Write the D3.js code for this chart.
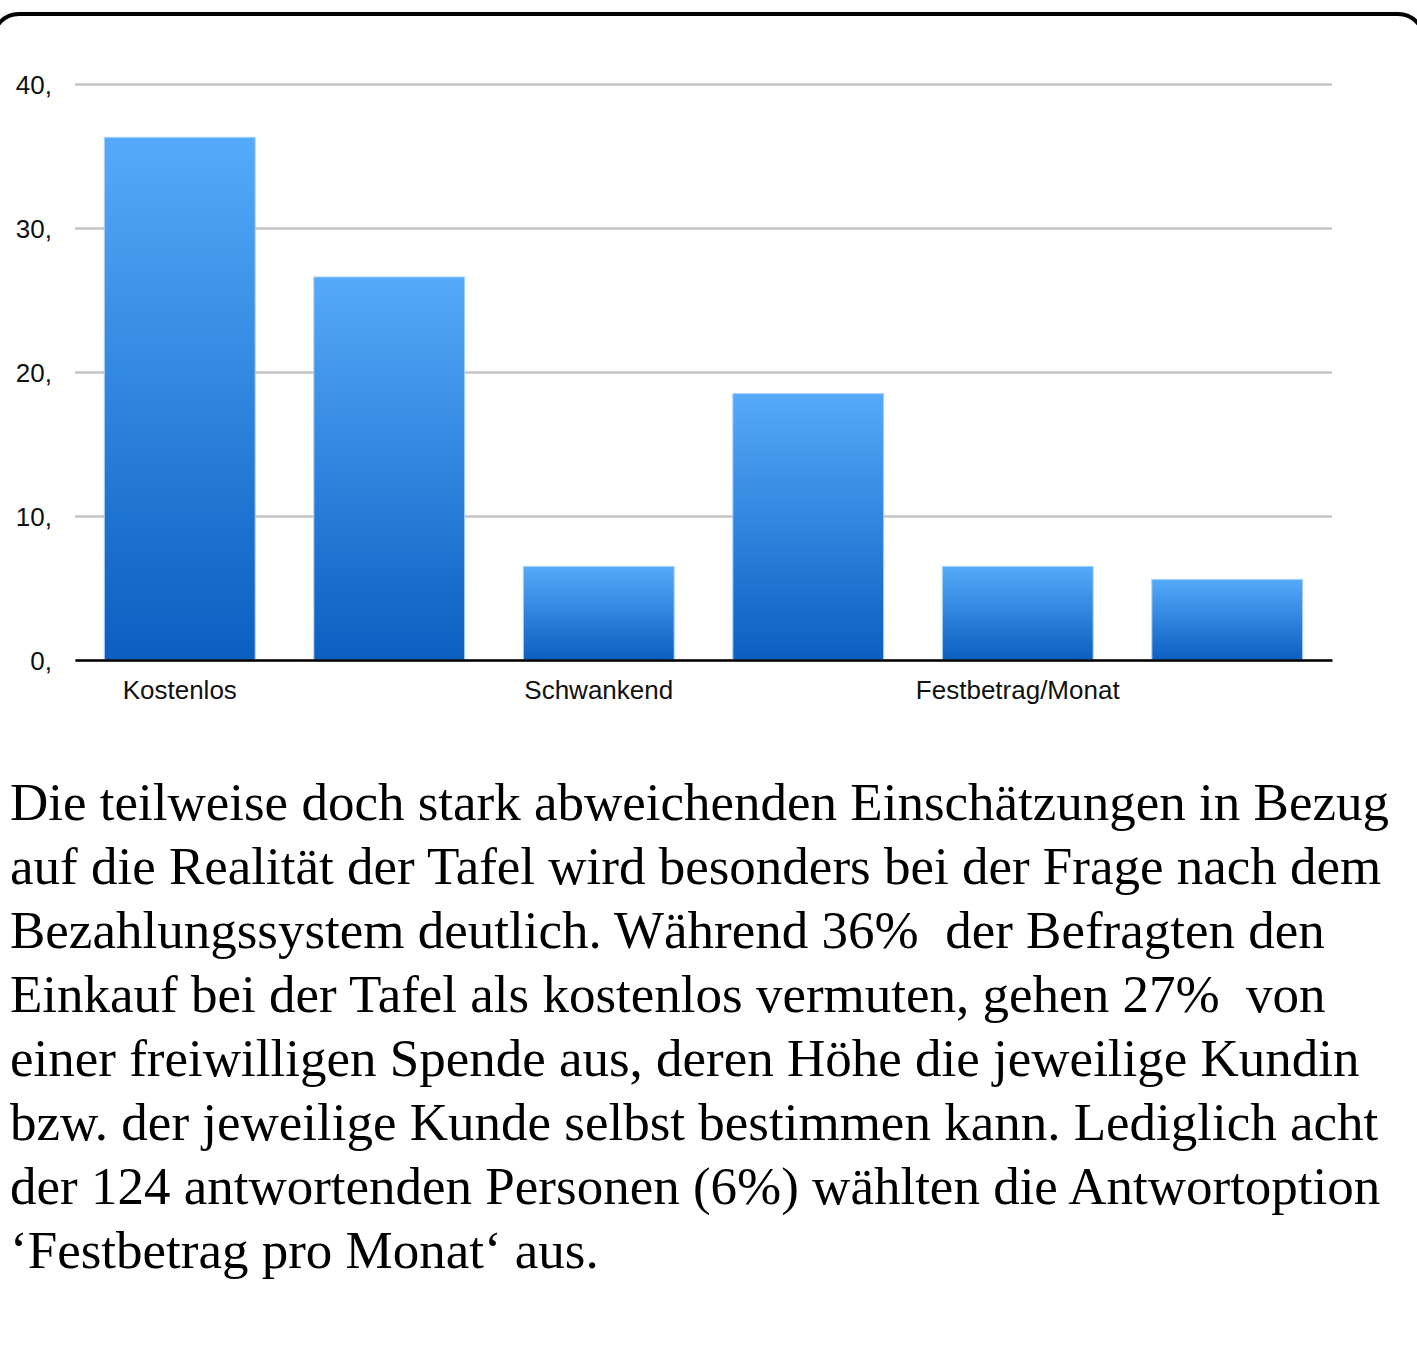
<!DOCTYPE html>
<html>
<head>
<meta charset="utf-8">
<script src="https://cdn.jsdelivr.net/npm/d3@7"></script>
<style>
  html, body { margin: 0; padding: 0; background: #fff; }
  svg { display: block; }
</style>
</head>
<body>
<div id="chart"></div>
<script>
// Antworten auf die Frage nach dem Bezahlungssystem (Prozent)
const categories = ["Kostenlos", "Spende", "Schwankend", "Freiwillig", "Festbetrag/Monat", "Sonstiges"];
const tickLabels = ["Kostenlos", "", "Schwankend", "", "Festbetrag/Monat", ""];
const values = [36.3, 26.6, 6.5, 18.5, 6.5, 5.6];
const yTicks = [0, 10, 20, 30, 40];

const paragraph = [
  "Die teilweise doch stark abweichenden Einschätzungen in Bezug",
  "auf die Realität der Tafel wird besonders bei der Frage nach dem",
  "Bezahlungssystem deutlich. Während 36%\u00a0 der Befragten den",
  "Einkauf bei der Tafel als kostenlos vermuten, gehen 27%\u00a0 von",
  "einer freiwilligen Spende aus, deren Höhe die jeweilige Kundin",
  "bzw. der jeweilige Kunde selbst bestimmen kann. Lediglich acht",
  "der 124 antwortenden Personen (6%) wählten die Antwortoption",
  "\u2018Festbetrag pro Monat\u2018 aus."
];

const width = 1417;
const height = 1349;
const margin = { top: 84, right: 85, left: 75 };
const plotBottom = 660;

const svg = d3.select("#chart")
  .append("svg")
  .attr("width", width)
  .attr("height", height);

const defs = svg.append("defs");

const grad = defs.append("linearGradient")
  .attr("id", "barGrad")
  .attr("x1", 0).attr("y1", 0)
  .attr("x2", 0).attr("y2", 1);
grad.append("stop").attr("offset", "0%").attr("stop-color", "#55aafa");
grad.append("stop").attr("offset", "100%").attr("stop-color", "#0a5fc1");

const shadow = defs.append("filter")
  .attr("id", "shadow")
  .attr("x", "-5%").attr("y", "-5%")
  .attr("width", "110%").attr("height", "110%");
shadow.append("feDropShadow")
  .attr("dx", 0).attr("dy", 4)
  .attr("stdDeviation", 3)
  .attr("flood-color", "#000")
  .attr("flood-opacity", 0.35);

// card frame at the top, side edges run just outside the view
svg.append("rect")
  .attr("x", -7)
  .attr("y", 14)
  .attr("width", width + 14)
  .attr("height", 1500)
  .attr("rx", 26)
  .attr("fill", "#fff")
  .attr("stroke", "#000")
  .attr("stroke-width", 4)
  .attr("filter", "url(#shadow)");

// scales
const x = d3.scaleBand()
  .domain(d3.range(categories.length))
  .range([margin.left, width - margin.right])
  .paddingInner(0.28)
  .paddingOuter(0.14);

const y = d3.scaleLinear()
  .domain([0, 40])
  .range([plotBottom, margin.top]);

// gridlines + y labels
const yAxis = svg.append("g")
  .attr("transform", `translate(${margin.left},0)`)
  .call(d3.axisLeft(y)
    .tickValues(yTicks)
    .tickSize(-(width - margin.right - margin.left))
    .tickPadding(23)
    .tickFormat(d => d + ","));

yAxis.select(".domain").remove();
yAxis.selectAll(".tick line")
  .attr("stroke", "#c4c4c4")
  .attr("stroke-width", 2.5);
yAxis.selectAll(".tick text")
  .attr("font-family", "'Liberation Sans', Arial, sans-serif")
  .attr("font-size", 26)
  .attr("fill", "#111")
  .attr("dy", "0.36em");

// bars
svg.append("g")
  .selectAll("rect")
  .data(values)
  .enter()
  .append("rect")
  .attr("x", (d, i) => x(i))
  .attr("y", d => y(d))
  .attr("width", x.bandwidth())
  .attr("height", d => y(0) - y(d))
  .attr("fill", "url(#barGrad)")
  .attr("stroke", "#a9d2fb")
  .attr("stroke-width", 1);

// baseline + category labels
const xAxis = svg.append("g")
  .attr("transform", `translate(0,${plotBottom})`)
  .call(d3.axisBottom(x)
    .tickSize(0)
    .tickPadding(21)
    .tickFormat(i => tickLabels[i]));

xAxis.select(".domain")
  .attr("stroke", "#000")
  .attr("stroke-width", 2.5);
xAxis.selectAll(".tick text")
  .attr("font-family", "'Liberation Sans', Arial, sans-serif")
  .attr("font-size", 26)
  .attr("fill", "#111");

// paragraph below the chart
svg.append("g")
  .selectAll("text")
  .data(paragraph)
  .enter()
  .append("text")
  .attr("x", 10)
  .attr("y", (d, i) => 820 + i * 64)
  .attr("font-family", "'Liberation Serif', 'Times New Roman', serif")
  .attr("font-size", 53)
  .attr("fill", "#000")
  .text(d => d);
</script>
</body>
</html>
